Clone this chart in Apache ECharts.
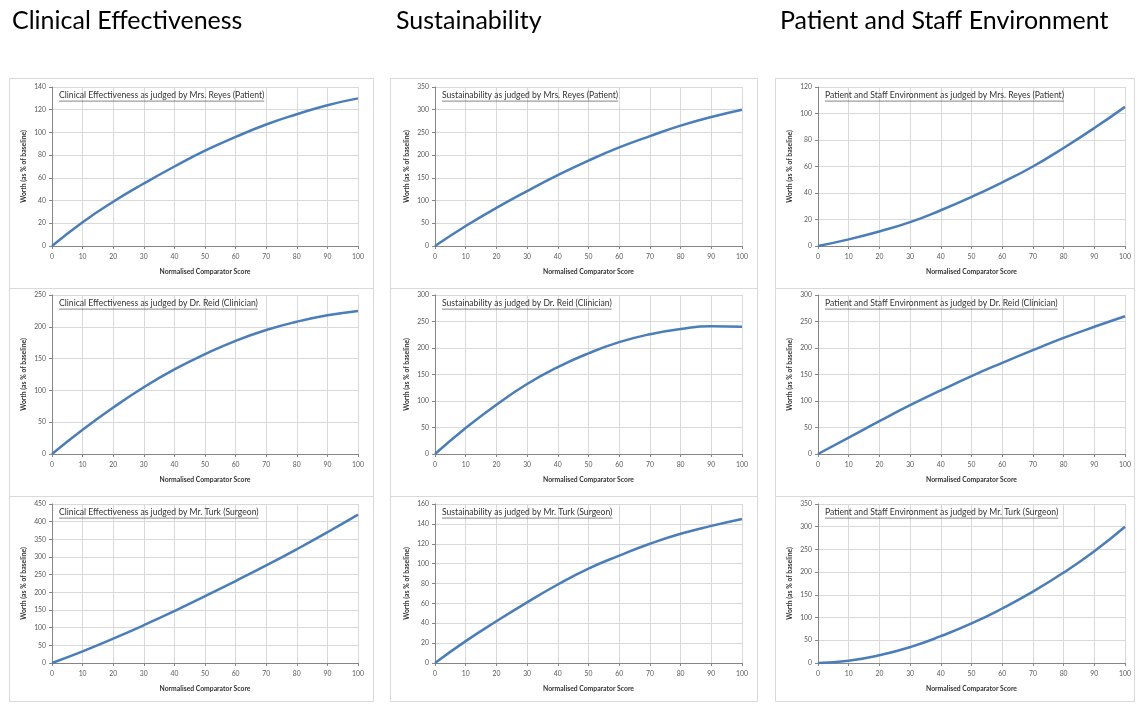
<!DOCTYPE html>
<html>
<head>
<meta charset="utf-8">
<script src="https://cdn.jsdelivr.net/npm/echarts@6/dist/echarts.min.js"></script>
<style>
    html, body { margin: 0; padding: 0; background: #fff; }
    #report { width: 1137px; height: 704px; }
</style>
</head>
<body>
<div id="report"></div>
<script>
// comparator scores along the x axis
var scores = [0, 10, 20, 30, 40, 50, 60, 70, 80, 90, 100];

// Mrs. Reyes (Patient)
var reyesClinical = [0, 21, 39, 55, 70, 84, 96, 107, 116, 124, 130];
var reyesSustain = [0, 44, 84, 121, 156, 188, 217, 242, 265, 284, 300];
var reyesEnviron = [0, 5, 11, 18, 27, 37, 48, 60, 74, 89, 105];

// Dr. Reid (Clinician)
var reidClinical = [0, 38, 73, 105, 133, 157, 178, 195, 208, 218, 225];
var reidSustain = [0, 49, 93, 132, 164, 190, 211, 226, 236, 241, 240];
var reidEnviron = [0, 31, 62, 92, 120, 147, 172, 196, 219, 240, 260];

// Mr. Turk (Surgeon)
var turkClinical = [0, 33, 69, 107, 147, 189, 232, 276, 322, 370, 420];
var turkSustain = [0, 22, 42, 61, 79, 95, 108, 120, 130, 138, 145];
var turkEnviron = [0, 5, 17, 35, 59, 87, 120, 157, 199, 246, 300];

var sectionTitles = ['Clinical Effectiveness', 'Sustainability', 'Patient and Staff Environment'];
var panelTitles = [
    'Clinical Effectiveness as judged by Mrs. Reyes (Patient)',
    'Sustainability as judged by Mrs. Reyes (Patient)',
    'Patient and Staff Environment as judged by Mrs. Reyes (Patient)',
    'Clinical Effectiveness as judged by Dr. Reid (Clinician)',
    'Sustainability as judged by Dr. Reid (Clinician)',
    'Patient and Staff Environment as judged by Dr. Reid (Clinician)',
    'Clinical Effectiveness as judged by Mr. Turk (Surgeon)',
    'Sustainability as judged by Mr. Turk (Surgeon)',
    'Patient and Staff Environment as judged by Mr. Turk (Surgeon)'
];
var panelValues = [
    reyesClinical, reyesSustain, reyesEnviron,
    reidClinical, reidSustain, reidEnviron,
    turkClinical, turkSustain, turkEnviron
];
var yMaxes = [140, 350, 120, 250, 300, 300, 450, 160, 350];
var yIntervals = [20, 50, 20, 50, 50, 50, 50, 20, 50];

var xName = 'Normalised Comparator Score';
var yName = 'Worth (as % of baseline)';

// layout (px)
var plotLeft = [52, 435, 818];
var plotWidth = [306, 307, 307];
var plotTop = [87, 295, 504];
var plotHeight = [159, 159, 159];
var boxLeft = [9, 390, 775];
var boxRight = [373, 757, 1134];
var boxTop = [78, 288, 496];
var boxBottom = [288, 496, 701];

var fontFamily = 'Lato, "Open Sans", sans-serif';
var panelTitleSize = 8.6;

var measure = document.createElement('canvas').getContext('2d');
measure.font = panelTitleSize + 'px ' + fontFamily;

var myChart = echarts.init(document.getElementById('report'));

var grids = [], xAxes = [], yAxes = [], series = [], titles = [], graphics = [];

sectionTitles.forEach(function (t, c) {
    titles.push({
        text: t,
        left: [12, 396, 780][c],
        top: 8,
        padding: 0,
        textStyle: { fontFamily: fontFamily, fontSize: 25, fontWeight: 'normal', color: '#000' }
    });
});

for (var r = 0; r < 3; r++) {
    for (var c = 0; c < 3; c++) {
        var i = r * 3 + c;
        graphics.push({
            type: 'rect',
            shape: { x: boxLeft[c] + 0.5, y: boxTop[r] + 0.5, width: boxRight[c] - boxLeft[c], height: boxBottom[r] - boxTop[r] },
            style: { fill: null, stroke: '#d9d9d9', lineWidth: 1 },
            z: 0
        });
        grids.push({
            left: plotLeft[c],
            top: plotTop[r],
            width: plotWidth[c],
            height: plotHeight[r]
        });
        xAxes.push({
            type: 'value',
            gridIndex: i,
            min: 0,
            max: 100,
            interval: 10,
            name: xName,
            nameLocation: 'middle',
            nameGap: 22,
            nameTextStyle: { fontFamily: fontFamily, fontSize: 6.8, fontWeight: 'bold', color: '#333' },
            axisLine: { lineStyle: { color: '#868686', width: 1 } },
            axisTick: { show: true, length: 3, lineStyle: { color: '#868686' } },
            axisLabel: { fontFamily: fontFamily, fontSize: 6.8, color: '#595959', margin: 7 },
            splitLine: { show: true, lineStyle: { color: '#d9d9d9', width: 1 } }
        });
        yAxes.push({
            type: 'value',
            gridIndex: i,
            min: 0,
            max: yMaxes[i],
            interval: yIntervals[i],
            name: yName,
            nameLocation: 'middle',
            nameGap: 25,
            nameTextStyle: { fontFamily: fontFamily, fontSize: 6.8, fontWeight: 'bold', color: '#333' },
            axisLine: { show: true, lineStyle: { color: '#868686', width: 1 } },
            axisTick: { show: true, length: 3, lineStyle: { color: '#868686' } },
            axisLabel: { fontFamily: fontFamily, fontSize: 6.8, color: '#595959', margin: 6 },
            splitLine: { show: true, lineStyle: { color: '#d9d9d9', width: 1 } }
        });
        series.push({
            type: 'line',
            xAxisIndex: i,
            yAxisIndex: i,
            data: scores.map(function (x, k) { return [x, panelValues[i][k]]; }),
            smooth: true,
            showSymbol: false,
            lineStyle: { color: '#4a7ebb', width: 2.5 },
            itemStyle: { color: '#4a7ebb' },
            z: 3
        });
        var tx = plotLeft[c] + 7;
        var ty = plotTop[r] + 4;
        titles.push({
            text: panelTitles[i],
            left: tx,
            top: ty,
            padding: 0,
            textStyle: { fontFamily: fontFamily, fontSize: panelTitleSize, fontWeight: 'normal', color: '#333' }
        });
        var w = measure.measureText(panelTitles[i]).width;
        graphics.push({
            type: 'line',
            shape: { x1: tx, y1: ty + panelTitleSize + 1.5, x2: tx + w, y2: ty + panelTitleSize + 1.5 },
            style: { stroke: '#333', lineWidth: 0.6 },
            z: 5
        });
    }
}

var option = {
    backgroundColor: '#fff',
    animation: false,
    title: titles,
    grid: grids,
    xAxis: xAxes,
    yAxis: yAxes,
    series: series,
    graphic: graphics
};
myChart.setOption(option);
</script>
</body>
</html>
